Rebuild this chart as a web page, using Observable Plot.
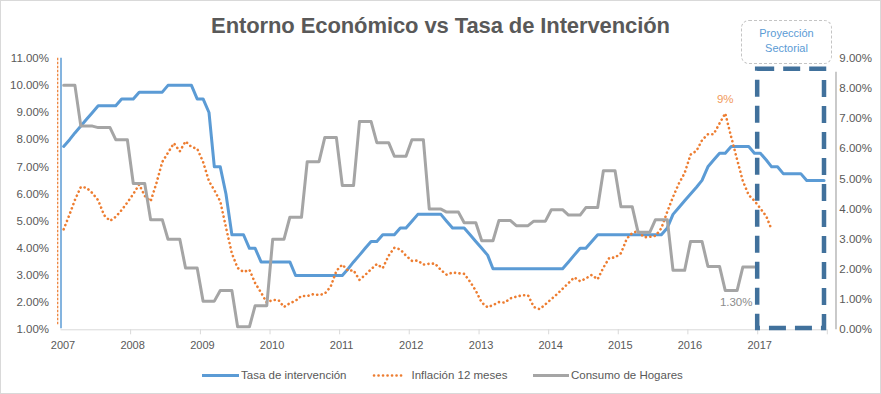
<!DOCTYPE html>
<html>
<head>
<meta charset="utf-8">
<script src="https://cdn.jsdelivr.net/npm/d3@7"></script>
<script src="https://cdn.jsdelivr.net/npm/@observablehq/plot@0.6"></script>
<style>
  body { margin: 0; background: #fff; font-family: "Liberation Sans", Arial, sans-serif; }
  #chart { position: relative; width: 881px; height: 394px; overflow: hidden; background: #fff; }
  #chart > svg { position: absolute; left: 0; top: 0; }
  .frame { position: absolute; left: 0; top: 0; width: 881px; height: 394px; box-sizing: border-box; border: 1px solid #d9d9d9; pointer-events: none; }
  .title { position: absolute; left: 0; width: 881px; top: 15px; text-align: center; font-size: 22px; line-height: 22px; font-weight: bold; color: #595959; letter-spacing: -0.1px; }
  .proj { position: absolute; left: 741px; top: 20px; width: 91px; height: 44px; box-sizing: border-box; border: 1.5px dashed #c4c4c4; border-radius: 8px; color: #5b9bd5; font-size: 11px; line-height: 15px; text-align: center; padding-top: 5px; }
  .leg { position: absolute; top: 368px; height: 14px; font-size: 11.5px; line-height: 14px; color: #595959; white-space: nowrap; }
  .leg svg { position: absolute; top: 0; }
</style>
</head>
<body>
<div id="chart"></div>
<script>
// ---- Data (monthly, Jan 2007 onward) ----
const startYear = 2007;
const endYear = 2018;

// Tasa de intervención (% , left axis) Jan 2007 - Dec 2017
const tasaIntervencion = [
  7.75, 8.0, 8.25, 8.5, 8.75, 9.0, 9.25, 9.25, 9.25, 9.25, 9.5, 9.5,
  9.5, 9.75, 9.75, 9.75, 9.75, 9.75, 10.0, 10.0, 10.0, 10.0, 10.0, 9.5,
  9.5, 9.0, 7.0, 7.0, 6.0, 4.5, 4.5, 4.5, 4.0, 4.0, 3.5, 3.5,
  3.5, 3.5, 3.5, 3.5, 3.0, 3.0, 3.0, 3.0, 3.0, 3.0, 3.0, 3.0,
  3.0, 3.25, 3.5, 3.75, 4.0, 4.25, 4.25, 4.5, 4.5, 4.5, 4.75, 4.75,
  5.0, 5.25, 5.25, 5.25, 5.25, 5.25, 5.0, 4.75, 4.75, 4.75, 4.5, 4.25,
  4.0, 3.75, 3.25, 3.25, 3.25, 3.25, 3.25, 3.25, 3.25, 3.25, 3.25, 3.25,
  3.25, 3.25, 3.25, 3.5, 3.75, 4.0, 4.0, 4.25, 4.5, 4.5, 4.5, 4.5,
  4.5, 4.5, 4.5, 4.5, 4.5, 4.5, 4.5, 4.5, 4.75, 5.25, 5.5, 5.75,
  6.0, 6.25, 6.5, 7.0, 7.25, 7.5, 7.5, 7.75, 7.75, 7.75, 7.75, 7.5,
  7.5, 7.25, 7.0, 7.0, 6.75, 6.75, 6.75, 6.75, 6.5, 6.5, 6.5, 6.5
];

// Inflación 12 meses (% , left axis) Jan 2007 - Mar 2017
const inflacion12Meses = [
  4.70, 5.25, 5.78, 6.26, 6.23, 6.03, 5.77, 5.22, 5.01, 5.16, 5.41, 5.69,
  6.00, 6.35, 5.93, 5.73, 6.39, 7.18, 7.52, 7.87, 7.57, 7.94, 7.73, 7.67,
  7.18, 6.47, 6.14, 5.73, 4.77, 3.81, 3.28, 3.13, 3.21, 2.72, 2.37, 2.00,
  2.10, 2.09, 1.84, 1.98, 2.07, 2.25, 2.24, 2.31, 2.28, 2.33, 2.59, 3.17,
  3.40, 3.17, 3.19, 2.84, 3.02, 3.23, 3.42, 3.27, 3.73, 4.02, 3.96, 3.73,
  3.54, 3.55, 3.40, 3.43, 3.44, 3.20, 3.03, 3.11, 3.08, 3.06, 2.77, 2.44,
  2.00, 1.83, 1.91, 2.02, 2.00, 2.16, 2.22, 2.27, 2.27, 1.84, 1.76, 1.94,
  2.13, 2.32, 2.51, 2.72, 2.93, 2.79, 2.89, 3.02, 2.86, 3.29, 3.65, 3.66,
  3.82, 4.36, 4.56, 4.64, 4.41, 4.42, 4.46, 4.74, 5.35, 5.89, 6.39, 6.77,
  7.45, 7.59, 7.98, 8.20, 8.20, 8.60, 8.97, 8.10, 7.27, 6.48, 5.96, 5.75,
  5.47, 5.18, 4.69
];

// Consumo de Hogares (% , right axis), quarterly 2007Q1 - 2016Q4 (shown monthly)
const consumoHogaresTrimestral = [
  8.1, 6.75, 6.7, 6.3,
  4.85, 3.65, 3.0, 2.05,
  0.95, 1.3, 0.1, 0.8,
  3.0, 3.73, 5.57, 6.37,
  4.78, 6.9, 6.2, 5.75,
  6.3, 4.0, 3.9, 3.55,
  2.95, 3.62, 3.45, 3.6,
  3.98, 3.8, 4.05, 5.27,
  4.08, 3.23, 3.65, 1.97,
  2.93, 2.1, 1.3, 2.08
];

const leftTicks = [1, 2, 3, 4, 5, 6, 7, 8, 9, 10, 11];
const rightTicks = [0, 1, 2, 3, 4, 5, 6, 7, 8, 9];
const yearLabels = d3.range(startYear, endYear + 1);
const seriesNames = ["Tasa de intervención", "Inflación 12 meses", "Consumo de Hogares"];
const colors = ["#5b9bd5", "#ed7d31", "#a5a5a5"];
const consumoLabelQuarter = 38;    // 2016Q3 annotated
const projectionYears = [2017, 2018];
const projectionTopRight = 8.7;    // right-axis value of the projection box top

// ---- Build tables ----
const monthDate = i => new Date(Date.UTC(startYear, i, 15));
const yearDate = y => new Date(Date.UTC(y, 0, 1));
const leftMin = leftTicks[0], leftMax = leftTicks[leftTicks.length - 1];
const rightMax = rightTicks[rightTicks.length - 1];
const rightToLeft = v => leftMin + v * (leftMax - leftMin) / rightMax;
const leftToRight = v => (v - leftMin) * rightMax / (leftMax - leftMin);

const tasaData = tasaIntervencion.map((v, i) => ({date: monthDate(i), value: v}));
const inflData = inflacion12Meses.map((v, i) => ({date: monthDate(i), value: v}));
const consumoData = consumoHogaresTrimestral.flatMap((v, q) =>
  [0, 1, 2].map(k => ({date: monthDate(q * 3 + k), value: rightToLeft(v), raw: v, q})));

const peakInfl = d3.greatest(inflData, d => d.value);
const consumoLabel = consumoData.filter(d => d.q === consumoLabelQuarter)[1];
const yearTicks = yearLabels.map(yearDate);
const projection = {start: yearDate(projectionYears[0]), end: yearDate(projectionYears[1])};

const font = "Liberation Sans, Arial, sans-serif";

const plot = Plot.plot({
  width: 881,
  height: 394,
  marginLeft: 60.5,
  marginRight: 54.2,
  marginTop: 57.7,
  marginBottom: 64.7,
  style: {fontFamily: font, background: "transparent", overflow: "visible"},
  x: {type: "utc", domain: [yearTicks[0], yearTicks[yearTicks.length - 1]]},
  y: {domain: [leftMin, leftMax]},
  marks: [
    Plot.ruleY([leftMin], {stroke: "#d9d9d9", strokeWidth: 1}),
    Plot.axisX({ticks: yearTicks.slice(1), tickSize: 5, tickFormat: () => "", stroke: "#d9d9d9", label: null}),
    Plot.axisX({ticks: yearTicks.slice(0, -1), tickSize: 0, tickPadding: 11, dx: 2,
      tickFormat: d => String(d.getUTCFullYear()), fill: "#595959", fontSize: 11, label: null}),
    Plot.axisY({ticks: leftTicks, tickSize: 0, tickPadding: 12,
      tickFormat: d => d.toFixed(2) + "%", fill: "#595959", fontSize: 11.5, label: null}),
    Plot.axisY({anchor: "right", ticks: rightTicks.map(rightToLeft), tickSize: 0, tickPadding: 12,
      tickFormat: d => leftToRight(d).toFixed(2) + "%", fill: "#595959", fontSize: 11.5, label: null}),
    // left axis lines (blue solid + orange dotted)
    Plot.ruleX([yearTicks[0]], {y1: leftMin, y2: leftMax, stroke: colors[1], strokeWidth: 1.2,
      strokeDasharray: "2.5,1.5", dx: -3.3, insetTop: -5}),
    Plot.ruleX([yearTicks[0]], {y1: leftMin, y2: leftMax, stroke: colors[0], strokeWidth: 1.5, insetTop: -1}),
    // right axis line
    Plot.ruleX([yearTicks[yearTicks.length - 1]], {y1: leftMin, y2: rightToLeft(projectionTopRight),
      stroke: "#a6a6a6", strokeWidth: 1.2, dx: 8.7, insetBottom: -5}),
    // series
    Plot.line(tasaData, {x: "date", y: "value", stroke: colors[0], strokeWidth: 3, strokeLinejoin: "round"}),
    Plot.line(inflData, {x: "date", y: "value", stroke: colors[1], strokeWidth: 2.6,
      strokeDasharray: "0.1,4.4", strokeLinecap: "round", curve: "linear"}),
    Plot.line(consumoData, {x: "date", y: "value", stroke: colors[2], strokeWidth: 3, strokeLinejoin: "round"}),
    // annotations
    Plot.text([peakInfl], {x: "date", y: "value", text: d => d3.format(".0f")(d.value) + "%",
      dy: -14, fill: "#f19a5c", fontSize: 11.5}),
    Plot.text([consumoLabel], {x: "date", y: "value", text: d => d.raw.toFixed(2) + "%",
      dy: 11.5, dx: 5, fill: "#8c8c8c", fontSize: 11.5}),
    // projection box
    Plot.rect([projection], {x1: "start", x2: "end", y1: leftMin, y2: rightToLeft(projectionTopRight - 0.07),
      fill: "none", stroke: "#41719c", strokeWidth: 4.5, strokeDasharray: "17,9",
      insetRight: 2.8, insetBottom: 1.3})
  ]
});

const chart = document.getElementById("chart");
chart.appendChild(plot);

const title = document.createElement("div");
title.className = "title";
title.textContent = "Entorno Económico vs Tasa de Intervención";
chart.appendChild(title);

const proj = document.createElement("div");
proj.className = "proj";
proj.innerHTML = "Proyección<br>Sectorial";
chart.appendChild(proj);

// legend
const legendItems = [
  {left: 202, textLeft: 241, w: 37, dash: null, width: 3},
  {left: 373, textLeft: 411.5, w: 30, dash: "0.1,4.4", width: 2.6},
  {left: 533, textLeft: 571, w: 36, dash: null, width: 3}
];
legendItems.forEach((it, i) => {
  const sw = document.createElementNS("http://www.w3.org/2000/svg", "svg");
  sw.setAttribute("width", it.w + 4);
  sw.setAttribute("height", 14);
  sw.style.position = "absolute";
  sw.style.left = (it.left - 2) + "px";
  sw.style.top = "368px";
  const ln = document.createElementNS("http://www.w3.org/2000/svg", "line");
  ln.setAttribute("x1", 2 + (it.dash ? 1 : 0));
  ln.setAttribute("x2", 2 + it.w);
  ln.setAttribute("y1", 7.5);
  ln.setAttribute("y2", 7.5);
  ln.setAttribute("stroke", colors[i]);
  ln.setAttribute("stroke-width", it.width);
  if (it.dash) { ln.setAttribute("stroke-dasharray", it.dash); ln.setAttribute("stroke-linecap", "round"); }
  sw.appendChild(ln);
  chart.appendChild(sw);
  const t = document.createElement("div");
  t.className = "leg";
  t.style.left = it.textLeft + "px";
  t.textContent = seriesNames[i];
  chart.appendChild(t);
});

const frame = document.createElement("div");
frame.className = "frame";
chart.appendChild(frame);
</script>
</body>
</html>
